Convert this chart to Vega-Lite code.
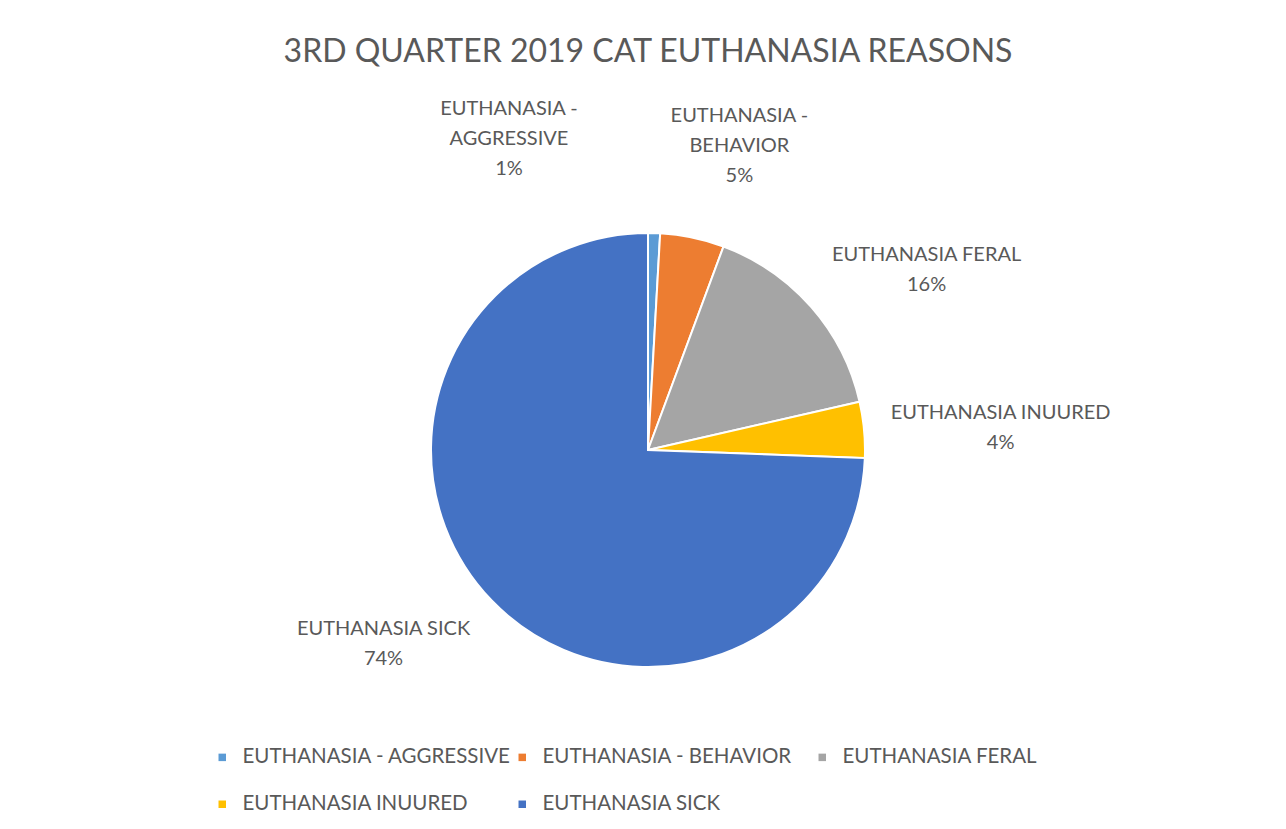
{
  "$schema": "https://vega.github.io/schema/vega-lite/v6.json",
  "autosize": {"type": "none"},
  "padding": {"left": 8, "top": 6, "right": 0, "bottom": 0},
  "width": 1280,
  "height": 888,
  "background": "white",
  "config": {
    "view": {"stroke": "#c8c8c8", "strokeWidth": 2},
    "font": "Lato"
  },
  "title": {
    "text": "3RD QUARTER 2019 CAT EUTHANASIA REASONS",
    "font": "Lato",
    "fontSize": 32,
    "fontWeight": "normal",
    "color": "#595959",
    "anchor": "middle",
    "frame": "group",
    "orient": "top",
    "baseline": "alphabetic",
    "offset": -56,
    "dy": 32
  },
  "data": {
    "values": [
      {"category": "EUTHANASIA - AGGRESSIVE", "value": 3, "label": "EUTHANASIA -\nAGGRESSIVE\n1%"},
      {"category": "EUTHANASIA - BEHAVIOR", "value": 16, "label": "EUTHANASIA -\nBEHAVIOR\n5%"},
      {"category": "EUTHANASIA FERAL", "value": 53, "label": "EUTHANASIA FERAL\n16%"},
      {"category": "EUTHANASIA INUURED", "value": 14, "label": "EUTHANASIA INUURED\n4%"},
      {"category": "EUTHANASIA SICK", "value": 250, "label": "EUTHANASIA SICK\n74%"}
    ]
  },
  "encoding": {
    "theta": {"field": "value", "type": "quantitative", "stack": true}
  },
  "layer": [
    {
      "mark": {"type": "arc", "radius": 217, "stroke": "white", "strokeWidth": 2},
      "encoding": {
        "color": {
          "field": "category",
          "type": "nominal",
          "sort": "ascending",
          "scale": {"range": ["#5B9BD5", "#ED7D31", "#A5A5A5", "#FFC000", "#4472C4"]},
          "legend": {
            "orient": "none",
            "legendX": 204,
            "legendY": 741,
            "direction": "horizontal",
            "columns": 3,
            "title": null,
            "symbolType": "square",
            "symbolSize": 56,
            "symbolStrokeWidth": 0,
            "labelFont": "Lato",
            "labelFontSize": 20.5,
            "labelColor": "#595959",
            "labelLimit": 0,
            "labelOffset": 10,
            "rowPadding": 26,
            "columnPadding": -9,
            "gridAlign": "all"
          }
        }
      }
    },
    {
      "mark": {"type": "text", "radius": 320, "dx": -148, "dy": -21, "align": "center", "baseline": "middle", "lineBreak": "\n", "lineHeight": 30, "fontSize": 20, "font": "Lato", "color": "#595959"},
      "encoding": {
        "detail": {"field": "category", "type": "nominal"},
        "text": {"condition": {"test": "datum.category === 'EUTHANASIA - AGGRESSIVE'", "field": "label"}, "value": ""}
      }
    },
    {
      "mark": {"type": "text", "radius": 320, "dx": 26, "dy": -21, "align": "center", "baseline": "middle", "lineBreak": "\n", "lineHeight": 30, "fontSize": 20, "font": "Lato", "color": "#595959"},
      "encoding": {
        "detail": {"field": "category", "type": "nominal"},
        "text": {"condition": {"test": "datum.category === 'EUTHANASIA - BEHAVIOR'", "field": "label"}, "value": ""}
      }
    },
    {
      "mark": {"type": "text", "radius": 320, "dx": 38, "dy": 16, "align": "center", "baseline": "middle", "lineBreak": "\n", "lineHeight": 30, "fontSize": 20, "font": "Lato", "color": "#595959"},
      "encoding": {
        "detail": {"field": "category", "type": "nominal"},
        "text": {"condition": {"test": "datum.category === 'EUTHANASIA FERAL'", "field": "label"}, "value": ""}
      }
    },
    {
      "mark": {"type": "text", "radius": 320, "dx": 34, "dy": -7, "align": "center", "baseline": "middle", "lineBreak": "\n", "lineHeight": 30, "fontSize": 20, "font": "Lato", "color": "#595959"},
      "encoding": {
        "detail": {"field": "category", "type": "nominal"},
        "text": {"condition": {"test": "datum.category === 'EUTHANASIA INUURED'", "field": "label"}, "value": ""}
      }
    },
    {
      "mark": {"type": "text", "radius": 320, "dx": -34, "dy": -43, "align": "center", "baseline": "middle", "lineBreak": "\n", "lineHeight": 30, "fontSize": 20, "font": "Lato", "color": "#595959"},
      "encoding": {
        "detail": {"field": "category", "type": "nominal"},
        "text": {"condition": {"test": "datum.category === 'EUTHANASIA SICK'", "field": "label"}, "value": ""}
      }
    }
  ]
}
